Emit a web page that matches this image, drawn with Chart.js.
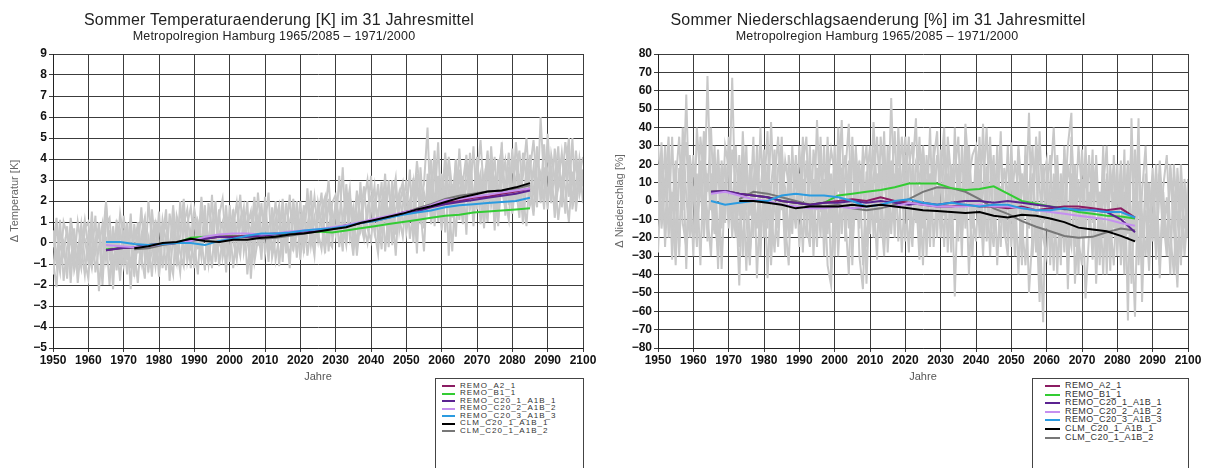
<!DOCTYPE html>
<html><head><meta charset="utf-8">
<script src="https://cdn.jsdelivr.net/npm/chart.js@4.4.1/dist/chart.umd.min.js"></script>
<style>
body{margin:0;background:#fff;width:1208px;height:468px;overflow:hidden;position:relative;font-family:"Liberation Sans",Arial,sans-serif;}
canvas{position:absolute;top:0;}
.title{position:absolute;white-space:nowrap;transform:translateX(-50%);color:#222;}
.t1{font-size:16px;top:11px;letter-spacing:0.2px;}
.t2{font-size:12.5px;top:29px;letter-spacing:0.2px;}
.legend{position:absolute;top:378px;border:1px solid #444;height:100px;box-sizing:border-box;background:#fff;}
.row{position:absolute;white-space:nowrap;color:#333;line-height:1;}
.sw{position:absolute;height:2px;}
</style></head>
<body>
<canvas id="c1" width="600" height="468" style="left:0"></canvas>
<canvas id="c2" width="600" height="468" style="left:605px"></canvas>
<div class="title t1" style="left:279px">Sommer Temperaturaenderung [K] im 31 Jahresmittel</div>
<div class="title t2" style="left:274px">Metropolregion Hamburg 1965/2085 – 1971/2000</div>
<div class="title t1" style="left:878px">Sommer Niederschlagsaenderung [%] im 31 Jahresmittel</div>
<div class="title t2" style="left:877px">Metropolregion Hamburg 1965/2085 – 1971/2000</div>
<div id="leg1" class="legend" style="left:435px;width:149px"></div>
<div id="leg2" class="legend" style="left:1032px;width:157px"></div>
<script>
// ---- categories ----
const firstYear = 1950, lastYear = 2100;
const runYears = [1965,1969,1973,1977,1981,1985,1989,1993,1997,2001,2005,2009,2013,2017,2021,2025,2029,2033,2037,2041,2045,2049,2053,2057,2061,2065,2069,2073,2077,2081,2085];
const seriesNames = ['REMO_A2_1','REMO_B1_1','REMO_C20_1_A1B_1','REMO_C20_2_A1B_2','REMO_C20_3_A1B_3','CLM_C20_1_A1B_1','CLM_C20_1_A1B_2'];
const seriesColors = ['#8b1c62','#33cc33','#5b2391','#c58ff0','#2b9be0','#000000','#777777'];
const seriesOrder = [5,6,4,3,2,1,7];

// ---- temperature: annual values (grey) 1950..2100 ----
const tempGray1 = [-0.8,-2.1,0.6,-0.4,-1.2,0.3,-0.9,1.0,-0.2,-1.5, 0.4,-0.6,1.3,-2.3,0.2,1.9,-0.7,-1.4,0.8,-0.3, -1.1,0.5,-2.2,0.9,-0.5,1.7,-0.8,0.2,-1.6,1.1, -0.4,0.7,-1.3,1.4,0.1,-0.9,2.0,-0.6,0.5,-1.2, 1.2,-0.3,2.2,0.4,-1.0,0.9,-0.2,1.6,-0.7,0.3, 1.0,-1.2,0.6,2.3,-0.4,0.8,1.5,-0.9,0.2,1.9, -0.5,0.7,1.4,-0.8,0.3,2.1,0.1,-0.6,1.2,0.5, 2.0,-0.3,0.9,1.6,0.0,1.1,2.4,-0.2,0.8,1.5, 0.4,3.2,0.9,-0.1,1.8,0.6,2.5,1.0,0.2,1.7, 2.2,0.5,1.3,2.9,-0.4,1.5,0.8,2.6,1.2,0.3, 2.4,1.0,3.1,0.6,1.9,2.8,5.5,0.9,2.2,1.4, 3.3,0.5,2.6,1.8,3.9,1.1,2.9,4.2,1.6,2.3, 3.6,0.9,2.7,4.4,1.8,3.0,2.1,4.8,1.3,3.4, 2.5,4.0,1.9,3.2,5.0,2.2,3.6,1.7,6.0,2.8, 3.5,1.9,4.5,2.6,3.1,1.4,4.1,2.9,3.8,2.3,3.2];
const tempGray2 = [0.3,-1.0,1.1,-1.8,-0.2,0.7,-1.3,-0.5,0.9,-0.8, -1.7,0.6,-0.4,1.0,-1.1,0.3,-2.0,0.8,-0.6,1.4, 0.2,-1.5,0.7,-0.3,-1.9,0.4,1.2,-1.0,0.6,-0.7, 1.5,-1.2,0.3,-0.5,1.8,-0.1,-1.4,0.9,1.6,-0.3, -0.8,1.0,0.2,-1.3,1.9,0.5,-0.6,1.3,2.1,-0.2, 0.6,1.4,-0.7,0.9,1.7,-1.5,0.4,2.2,0.0,-0.3, 1.6,-0.2,0.5,2.0,-1.1,0.9,0.3,2.3,-0.4,1.1, 0.2,1.8,-0.6,0.7,2.2,0.5,-0.3,1.4,3.0,0.6, 1.9,-0.2,1.2,2.3,0.3,1.6,-0.6,1.1,2.7,0.7, 0.1,2.0,1.4,-0.3,2.5,0.8,3.0,0.4,1.7,2.6, 0.5,1.8,2.9,-0.5,3.6,1.2,2.0,4.0,0.8,3.2, 1.5,4.3,2.1,-0.4,3.0,2.6,0.9,3.8,2.2,4.6, 1.6,2.9,0.7,3.5,2.4,4.1,1.2,2.8,3.9,1.8, 4.5,2.0,3.3,0.9,2.7,4.2,1.5,3.0,2.4,4.7, 2.1,3.7,1.2,2.8,4.3,2.5,1.0,3.4,2.0,4.0,2.7];
const tempGray3 = [-1.5,0.8,-0.3,0.1,-1.7,1.2,0.0,-1.1,0.5,0.2, -0.9,1.5,-1.4,-0.2,0.9,-0.8,0.6,-2.2,1.1,-1.0, 1.3,-0.4,0.0,-1.3,1.0,-0.6,-1.7,2.0,0.1,-1.1, 0.8,0.2,1.6,-1.8,0.4,1.0,-0.5,-1.1,0.9,1.7, 0.0,-1.5,1.4,0.7,-0.3,2.3,-0.9,0.4,1.0,-1.4, 1.8,0.1,-0.8,1.2,0.5,2.0,-1.7,0.9,1.3,-0.1, 0.8,2.4,-0.7,0.2,1.5,-0.9,1.9,0.6,-0.2,2.0, -0.8,1.3,0.4,2.5,-0.1,1.7,0.9,-0.5,2.1,0.3, 1.4,0.8,3.6,0.0,2.2,1.3,-0.2,2.9,0.5,1.2, 3.2,0.6,-0.5,1.9,1.1,3.0,-0.1,1.6,2.4,1.0, 1.3,3.5,0.0,2.7,1.6,-0.4,3.3,2.1,4.4,1.0, 2.4,3.7,-0.6,2.8,1.4,4.5,2.0,1.2,3.4,0.8, 3.1,4.9,2.2,1.0,3.8,0.6,4.0,2.5,1.7,3.6, 1.4,3.0,4.4,2.3,0.8,3.5,4.9,2.6,3.3,1.6, 5.2,2.4,3.0,4.6,1.7,3.9,2.2,5.0,1.5,3.3,4.1];
const tempGray4 = [0.6,-0.5,-1.4,1.0,0.4,-1.0,0.7,-1.9,-0.1,1.1, -0.3,-1.2,0.2,0.7,-1.6,2.0,-0.2,0.4,-1.3,0.6, -0.6,1.0,-1.2,0.3,0.8,-0.9,0.5,-1.4,1.6,-0.2, -1.0,1.1,0.0,-0.7,-1.5,1.3,0.6,1.4,-0.9,0.1, 1.6,0.6,-0.7,1.1,0.3,-1.2,1.5,0.0,-0.4,1.8, -0.6,0.7,1.9,-0.2,0.3,1.1,0.6,-0.5,2.4,0.4, 1.2,-0.9,1.7,0.4,0.8,1.4,-0.5,1.0,1.8,-0.7, 0.9,1.5,2.0,-0.1,1.2,0.1,1.6,2.2,-0.4,1.9, 2.3,1.0,0.1,1.5,2.6,-0.3,1.4,0.6,2.0,3.0, 0.9,1.4,2.8,0.7,1.8,-0.2,2.1,3.1,0.6,1.8, 3.0,0.2,1.6,3.9,2.3,0.7,2.5,1.1,3.4,2.6, 0.6,2.8,3.5,1.2,4.0,1.7,3.2,0.4,4.3,2.0, 2.5,3.3,1.0,4.2,2.8,1.6,3.5,4.5,2.0,1.1, 3.8,2.7,1.2,4.3,3.0,1.8,2.4,4.6,1.9,3.6, 1.6,4.2,3.1,1.1,2.7,4.8,3.4,1.9,4.4,2.6,3.5];
const tempGray5 = [-0.2,1.2,-1.0,-0.6,0.8,-1.9,0.4,-0.3,-1.2,0.7, 1.0,-0.9,-0.1,0.5,-2.0,0.9,1.2,-1.0,0.0,-1.8, 0.6,-0.8,1.4,-1.6,0.2,-0.2,1.0,-1.2,-0.4,0.8, -1.6,0.3,0.9,-0.3,1.2,-1.1,0.4,2.1,-0.5,0.6, -1.2,0.9,-0.2,1.8,-0.9,0.6,2.0,-1.1,0.2,1.1, -0.9,1.6,0.3,-0.6,1.3,0.1,-1.0,1.7,0.8,-0.8, 2.2,0.0,-0.4,1.1,1.8,-0.3,0.7,-1.2,2.1,0.4, 1.2,-0.5,2.6,0.5,-0.6,1.9,0.8,2.2,0.1,-0.2, 2.0,1.1,-0.4,2.8,0.7,-0.6,1.9,2.4,0.8,0.0, 1.5,2.7,0.2,1.1,3.3,0.4,1.6,-0.6,2.3,2.9, 1.1,2.0,0.7,3.3,0.9,2.4,1.5,3.0,1.8,4.8, 0.9,2.0,4.1,2.5,0.3,3.5,1.6,2.7,4.0,1.3, 4.1,2.0,3.2,1.5,4.6,2.3,0.8,3.7,2.6,4.3, 1.9,4.8,2.9,1.5,3.7,2.6,1.3,4.0,3.2,2.1, 4.4,2.8,1.8,3.9,2.2,3.3,5.0,1.6,2.8,3.9,1.9];

// ---- temperature: 31-year means (coloured), at runYears ----
const tempA2   = [-0.35,-0.25,-0.2,-0.1,-0.05,0.0,0.15,0.2,0.3,0.3,0.35,0.4,0.45,0.5,0.55,0.6,0.7,0.8,0.95,1.1,1.25,1.45,1.6,1.75,1.9,2.0,2.15,2.2,2.35,2.45,2.6];
const tempB1   = [-0.3,-0.25,-0.2,-0.1,-0.05,0.0,0.25,0.3,0.3,0.3,0.35,0.4,0.4,0.45,0.5,0.55,0.5,0.6,0.7,0.8,0.9,1.0,1.1,1.2,1.3,1.35,1.45,1.5,1.55,1.6,1.65];
const tempC20a = [-0.35,-0.25,-0.2,-0.1,-0.05,0.0,0.15,0.2,0.3,0.25,0.3,0.35,0.4,0.5,0.55,0.6,0.7,0.85,0.95,1.1,1.25,1.4,1.5,1.7,1.85,1.95,2.05,2.15,2.25,2.35,2.5];
const tempC20b = [-0.1,-0.15,-0.2,-0.15,-0.05,0.0,0.1,0.3,0.4,0.45,0.45,0.4,0.45,0.55,0.6,0.65,0.75,0.85,1.0,1.15,1.3,1.45,1.6,1.8,2.05,2.1,2.2,2.3,2.4,2.5,2.6];
const tempC20c = [0.05,0.05,-0.05,-0.1,-0.05,0.0,0.0,-0.1,0.1,0.2,0.35,0.45,0.45,0.5,0.6,0.65,0.7,0.8,0.95,1.05,1.2,1.35,1.45,1.55,1.7,1.8,1.85,1.9,1.95,2.0,2.15];
const tempCLM1 = [null,null,-0.25,-0.15,0.0,0.05,0.2,0.1,0.05,0.15,0.15,0.25,0.3,0.4,0.45,0.55,0.65,0.75,0.95,1.1,1.25,1.4,1.6,1.75,1.95,2.15,2.3,2.45,2.5,2.65,2.85];
const tempCLM2 = [null,null,-0.3,-0.25,-0.1,0.0,0.1,0.2,0.3,0.35,0.3,0.2,0.25,0.35,0.45,0.55,0.65,0.8,0.95,1.05,1.2,1.4,1.65,1.85,2.1,2.25,2.35,2.45,2.5,2.6,2.75];

// ---- precipitation: annual values (grey) 1950..2100 ----
const precGray1 = [12,-8,30,-20,5,-35,18,-5,58,-15, 8,-25,22,-10,68,0,-18,25,-37,10, -5,67,-12,15,-30,20,-8,35,-42,5, 28,-15,43,-3,-25,18,7,-20,30,-10, 15,-28,22,0,-18,44,-6,12,-35,-46, 20,5,44,-22,10,-12,30,-30,-48,16, -8,43,2,-20,25,-15,56,-5,18,-28, 10,35,-18,4,-32,22,-10,40,-25,8, -15,30,-5,20,-52,12,-20,35,0,-30, 18,-10,42,-22,5,25,-35,8,-12,30, -25,10,-40,15,-8,48,-30,-5,-55,20, -15,5,-38,25,-20,-5,30,48,-45,-10, 12,-53,-18,20,-30,5,-40,15,-12,-35, 10,-25,28,-65,45,-20,0,-38,15,-28, -10,20,-42,5,-25,18,-15,-47,8,-30,-5];
const precGray2 = [-10,32,-25,15,-5,22,-30,40,2,-20, 25,-12,5,38,-22,15,-8,28,-15,30, 18,-20,8,-46,25,-10,-35,12,22,-18, 5,38,-22,20,-8,12,-30,25,2,-15, 30,-5,-20,18,8,-25,35,-12,20,-40, -8,28,-18,15,42,-25,5,22,-35,10, 30,-20,15,-5,38,-28,10,-12,28,5, -22,18,32,-12,8,-35,25,0,15,-20, 28,-8,15,-28,40,-12,5,22,-40,10, -5,35,-18,12,-30,20,-8,38,-20,2, 15,-30,28,-12,-35,5,30,-20,-10,-66, 20,-25,8,-40,15,-12,-30,35,-5,-22, -35,18,-10,28,-45,5,-20,12,-38,25, -18,8,-40,20,-12,-63,25,-8,-30,10, -22,15,-35,8,25,-18,-40,18,-12,-25,12];
const precGray3 = [30,5,-15,25,-32,10,35,-12,-25,18, -30,40,10,-20,15,-5,30,-25,5,20, -15,28,10,-25,38,-5,15,-20,30,-8, -12,20,-35,10,35,-5,22,8,-18,25, -10,20,35,-20,12,-5,25,-30,10,28, 15,-30,10,25,-15,35,-10,18,5,-25, 20,5,-32,35,12,-8,22,-20,40,0, 25,-10,15,45,-20,30,5,-15,22,38, -20,10,25,-12,15,35,-18,8,30,-5, -22,15,28,0,35,-15,10,-25,18,5, -8,22,5,-28,30,-15,10,25,-40,12, 22,-35,15,-18,10,-28,20,5,-25,12, -20,30,-15,5,20,-35,10,-25,8,18, -30,15,-10,22,-45,5,30,-20,-5,-38, 12,-18,22,-10,-30,15,5,-35,20,-15,2];
const precGray4 = [-28,20,8,-12,35,-22,12,30,-37,25, 5,-18,35,12,-8,-30,18,-37,22,-12, 35,0,-20,25,-10,30,-28,-5,18,-30, 20,-42,8,28,-15,35,-20,15,-10,22, -25,12,-8,30,-30,18,5,-18,35,-12, 30,-20,18,-8,-40,25,12,-15,30,-45, 10,28,-12,20,-25,30,-18,15,0,35, 5,-28,20,-5,35,-15,12,-25,30,-10, 15,40,-28,20,5,-22,30,-15,12,25, 30,-20,5,40,-10,-25,15,22,-15,-30, 20,-12,30,5,18,-50,-18,35,8,-20, -30,10,40,-10,-22,28,-48,15,-10,30, 5,-20,25,-12,15,-25,30,-40,20,-15, 20,-35,5,-18,32,-22,45,-55,10,-12, 18,-28,10,-20,2,-40,20,-10,-30,5,-20];
const precGray5 = [20,-15,8,35,-20,2,-25,15,32,-10, -20,15,-35,28,5,40,-10,-28,18,2, 25,-15,30,-8,12,-38,20,5,-15,40, -20,10,-5,-28,18,30,-12,-35,22,8, -5,35,-12,-25,28,10,-20,30,-18,15, -30,40,8,-12,22,-35,28,-5,15,30, -18,12,35,-5,-30,20,8,38,-22,12, 35,-5,-25,20,12,30,-30,15,-5,25, 8,-25,35,12,-10,20,-30,42,15,-15, 28,10,-30,18,22,-18,30,-12,5,-22, 32,-20,10,-35,25,-8,15,-28,38,-12, 5,25,-20,12,-35,30,-15,-25,20,-40, 28,-10,5,-32,25,-15,8,30,-30,5, -12,22,-28,10,-20,28,-35,5,30,-25, 8,-32,15,-8,-22,20,-15,10,-35,12,-10];

// ---- precipitation: 31-year means (coloured), at runYears ----
const precA2   = [5,5.5,4,3,2,0,-1,-2,-1,0,1,0,2,0,-1,-2,-3,-3,-2,-3,-3,-4,-3,-5,-4,-3,-3,-4,-5,-4,-9];
const precB1   = [5,5.5,4,3,2,0,-1,-2,-1,3,4,5,6,7.5,9.5,9.5,9.5,7,6,6.5,8,4,0,-1.5,-3,-4,-6,-7,-8,-8.5,-9.5];
const precC20a = [5,5.5,4,3,2,0,-1,-2,-1,-1,0,-1,0,-1,-2,-1,-2,-1,0,0,-1,0,-1,-2,-3,-4.5,-4.5,-5,-6,-10,-17];
const precC20b = [4,5,3,1,0,-2,-3,-4,-4,-3,-4,-3,-2,-3,-1,-2,-3,-3,-3,-2,-3,-3,-4,-5,-6,-7,-8,-9,-10,-12,-13.5];
const precC20c = [0,-2,-1,0,0,3,4,3,3,2,0,-3,-2,0,1,-1,-2,-1,-2,-3,-2,-2,-4,-5,-5,-4,-5,-5,-6,-6,-9];
const precCLM1 = [null,null,0,0,-1,-2,-4,-3,-3,-3,-2,-3,-2,-3,-4,-5,-5.5,-6,-6.5,-6,-8,-9,-7.5,-8,-9.5,-11.5,-14.5,-15.5,-16.5,-19,-22];
const precCLM2 = [null,null,1,5,4,2,0,-2,-3,-2,-4,-5,-4,-2,1,5,7.5,7,5,1,-4,-7,-11,-14,-16.5,-19,-20,-19.5,-17,-15,-16];

// ---- build ----
const annualYears = [];
for (let y = firstYear; y <= lastYear; y++) annualYears.push(y);
const pairs = (xs, ys) => xs.map((x, i) => ({x, y: ys[i]}));

function grayDs(vals){
  return {data: pairs(annualYears, vals), borderColor:'#c8c8c8', borderWidth:2, pointRadius:0, tension:0, order:20};
}
function runDs(vals, i){
  return {label: seriesNames[i], data: pairs(runYears, vals), borderColor: seriesColors[i], borderWidth:2, pointRadius:0, tension:0, order: seriesOrder[i]};
}
const minus = v => String(v).replace('-', '\u2212');

function makeChart(id, grays, runs, yMin, yMax, yStep, yTitle){
  const tickFont = {family:'"Liberation Sans", Arial, sans-serif', size:12, weight:'bold'};
  new Chart(document.getElementById(id), {
    type:'line',
    data:{datasets:[...runs.map(runDs), ...grays.map(grayDs)]},
    options:{
      responsive:false, animation:false, events:[],
      layout:{padding:{left:0, right:17, top:54, bottom:80}},
      plugins:{legend:{display:false}, tooltip:{enabled:false}, title:{display:false}},
      scales:{
        x:{type:'linear', min:firstYear, max:lastYear,
           afterFit(s){ s.height = 40; },
           ticks:{stepSize:10, autoSkip:false, maxRotation:0, color:'#111', font:tickFont, padding:1, callback:v=>String(v)},
           grid:{color:'#3c3c3c', lineWidth:1, tickLength:4},
           border:{color:'#222', width:1},
           title:{display:true, text:'Jahre', color:'#555', font:{family:'"Liberation Sans", Arial, sans-serif', size:11}, padding:{top:0,bottom:4}}},
        y:{type:'linear', min:yMin, max:yMax,
           afterFit(s){ s.width = 53; },
           ticks:{stepSize:yStep, autoSkip:false, color:'#111', font:tickFont, padding:2, callback:minus},
           grid:{color:'#3c3c3c', lineWidth:1, tickLength:4},
           border:{color:'#222', width:1},
           title:{display:true, text:yTitle, color:'#666', font:{family:'"Liberation Sans", Arial, sans-serif', size:11}, padding:{top:8,bottom:0}}}
      }
    }
  });
}

makeChart('c1', [tempGray1,tempGray2,tempGray3,tempGray4,tempGray5],
  [tempA2,tempB1,tempC20a,tempC20b,tempC20c,tempCLM1,tempCLM2], -5, 9, 1, '\u0394 Temperatur [K]');
makeChart('c2', [precGray1,precGray2,precGray3,precGray4,precGray5],
  [precA2,precB1,precC20a,precC20b,precC20c,precCLM1,precCLM2], -80, 80, 10, '\u0394 Niederschlag [%]');

// ---- HTML legends ----
function buildLegend(id, lineX, lineW, textX, y0, dy, fontSize, spacing){
  const box = document.getElementById(id);
  seriesNames.forEach((n, i) => {
    const sw = document.createElement('div');
    sw.className = 'sw';
    sw.style.cssText = `left:${lineX}px;top:${y0 + i*dy - 1}px;width:${lineW}px;background:${seriesColors[i]}`;
    box.appendChild(sw);
    const t = document.createElement('div');
    t.className = 'row';
    t.textContent = n;
    t.style.cssText = `left:${textX}px;top:${y0 + i*dy - fontSize*0.55}px;font-size:${fontSize}px;letter-spacing:${spacing}px`;
    box.appendChild(t);
  });
}
buildLegend('leg1', 6, 13, 24, 7, 7.5, 8, 1.0);
buildLegend('leg2', 12, 15, 32, 7, 8.6, 9, 0.4);
</script>
</body></html>
